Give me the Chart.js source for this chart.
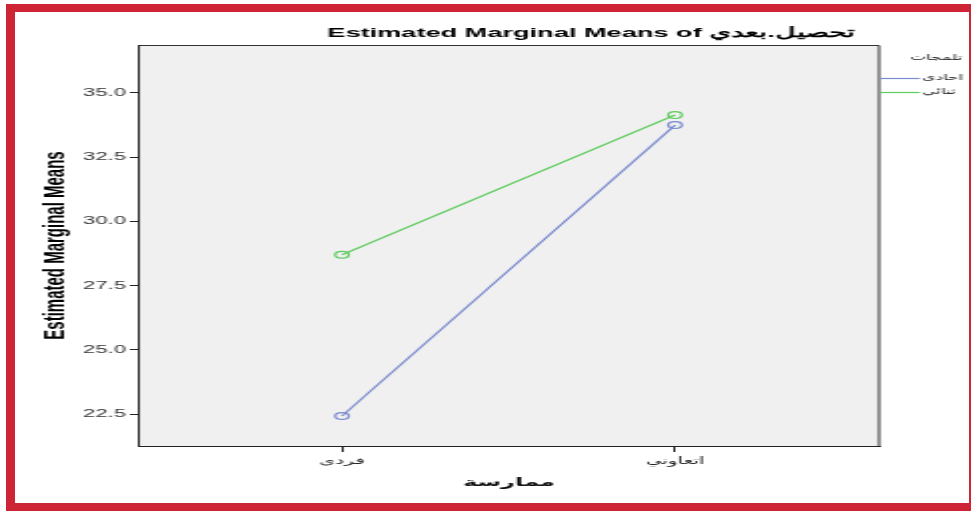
<!DOCTYPE html>
<html>
<head>
<meta charset="utf-8">
<script src="https://cdn.jsdelivr.net/npm/chart.js@4.4.1/dist/chart.umd.min.js"></script>
<style>
  html, body { margin: 0; padding: 0; background: #fff; width: 971px; height: 511px; overflow: hidden; }
  #wrap { position: absolute; left: 0; top: 0; width: 486px; height: 511px; transform: scaleX(1.99794); transform-origin: 0 0; }
  #frame { position: absolute; left: 6px; top: 4px; width: 954px; height: 491px; border-style: solid; border-color: #cd2436; border-width: 8px 2px 8px 9px; pointer-events: none; }
</style>
</head>
<body>
<div id="wrap"><canvas id="c" width="486" height="511"></canvas></div>
<div id="frame"></div>
<script>
// Profile plot: estimated marginal means of the post-test score by practice type and group
const categories = ['فردى', 'اتعاوني'];
const seriesNames = ['احادى', 'ثنائي'];
const singleValues = [22.42, 33.75];
const dualValues = [28.70, 34.14];
const seriesColors = ['#7b8bcf', '#5fcc5f'];
const yTickValues = [22.5, 25.0, 27.5, 30.0, 32.5, 35.0];
const chartTitle = 'Estimated Marginal Means of تحصيل.بعدي';
const yAxisTitle = 'Estimated Marginal Means';
const xAxisTitle = 'ممارسة';
const legendTitle = 'تلمجات';

const arabicFont = '"DejaVu Sans", "Liberation Sans", sans-serif';

function toPoints(values) {
  return values.map((v, i) => ({ x: i, y: v }));
}

const datasets = [singleValues, dualValues].map((vals, i) => ({
  label: seriesNames[i],
  data: toPoints(vals),
  borderColor: seriesColors[i],
  backgroundColor: 'rgba(0,0,0,0)',
  borderWidth: 1.2,
  pointRadius: 3.4,
  pointBorderWidth: 1.2,
  pointBorderColor: seriesColors[i],
  pointBackgroundColor: 'rgba(0,0,0,0)',
  tension: 0
}));

// grey plotting panel with a frame around it
const panelPlugin = {
  id: 'panel',
  beforeDraw(chart) {
    const { ctx, chartArea: a } = chart;
    ctx.save();
    ctx.fillStyle = '#f0f0f0';
    ctx.fillRect(a.left, a.top, a.right - a.left, a.bottom - a.top);
    ctx.strokeStyle = '#333';
    ctx.lineWidth = 1;
    ctx.beginPath();
    ctx.moveTo(a.left, a.top + 0.5);
    ctx.lineTo(a.right - 0.5, a.top + 0.5);
    ctx.lineTo(a.right - 0.5, a.bottom);
    ctx.stroke();
    ctx.restore();
  }
};

// heading and the series key at the right
const textPlugin = {
  id: 'texts',
  afterDraw(chart) {
    const { ctx, chartArea: a } = chart;
    ctx.save();
    ctx.fillStyle = '#000';
    ctx.font = 'bold 13.6px "Liberation Sans", Arial, sans-serif';
    ctx.textAlign = 'center';
    ctx.textBaseline = 'middle';
    ctx.fillText(chartTitle, 295.8, 33);

    ctx.font = '8.5px ' + arabicFont;
    ctx.fillStyle = '#222';
    ctx.fillText(legendTitle, 468.5, 58);

    const rows = [78, 92];
    chart.data.datasets.forEach((ds, i) => {
      const y = rows[i];
      ctx.strokeStyle = ds.borderColor;
      ctx.lineWidth = 1.2;
      ctx.beginPath();
      ctx.moveTo(a.right, y + 0.5);
      ctx.lineTo(a.right + 20, y + 0.5);
      ctx.stroke();
      ctx.fillStyle = '#222';
      ctx.textAlign = 'left';
      ctx.font = '8.5px ' + arabicFont;
      ctx.fillText(ds.label, a.right + 21, y);
    });
    ctx.restore();
  }
};

new Chart(document.getElementById('c'), {
  type: 'line',
  data: { datasets },
  plugins: [panelPlugin, textPlugin],
  options: {
    responsive: false,
    animation: false,
    devicePixelRatio: 1,
    layout: { padding: { left: 0, top: 45, right: 45.5, bottom: 0 } },
    plugins: { legend: { display: false }, title: { display: false }, tooltip: { enabled: false } },
    scales: {
      x: {
        type: 'linear',
        min: -0.6126,
        max: 1.6156,
        afterBuildTicks(scale) { scale.ticks = categories.map((c, i) => ({ value: i })); },
        afterFit(scale) { scale.height = 65; },
        ticks: {
          autoSkip: false,
          maxRotation: 0,
          padding: 3,
          color: '#222',
          font: { family: arabicFont, size: 10 },
          callback: (v) => categories[v]
        },
        grid: { drawOnChartArea: false, drawTicks: true, tickLength: 6, color: '#222' },
        border: { display: true, color: '#222', width: 1 },
        title: {
          display: true,
          text: xAxisTitle,
          color: '#111',
          font: { family: arabicFont, size: 12, weight: 'bold' },
          padding: { top: 0, bottom: 21 }
        }
      },
      y: {
        type: 'linear',
        min: 21.254,
        max: 36.869,
        afterBuildTicks(scale) { scale.ticks = yTickValues.map(v => ({ value: v })); },
        afterFit(scale) { scale.width = 69; },
        ticks: {
          padding: 2,
          color: '#333',
          font: { family: '"Liberation Sans", Arial, sans-serif', size: 11 },
          callback: (v) => Number(v).toFixed(1)
        },
        grid: { drawOnChartArea: false, drawTicks: true, tickLength: 4, color: '#222' },
        border: { display: true, color: '#222', width: 1 },
        title: {
          display: true,
          text: yAxisTitle,
          color: '#000',
          font: { family: '"Liberation Sans Narrow", "Liberation Sans", Arial, sans-serif', size: 15, weight: 'bold' },
          padding: { top: 18.5, bottom: 0 }
        }
      }
    }
  }
});
</script>
</body>
</html>
